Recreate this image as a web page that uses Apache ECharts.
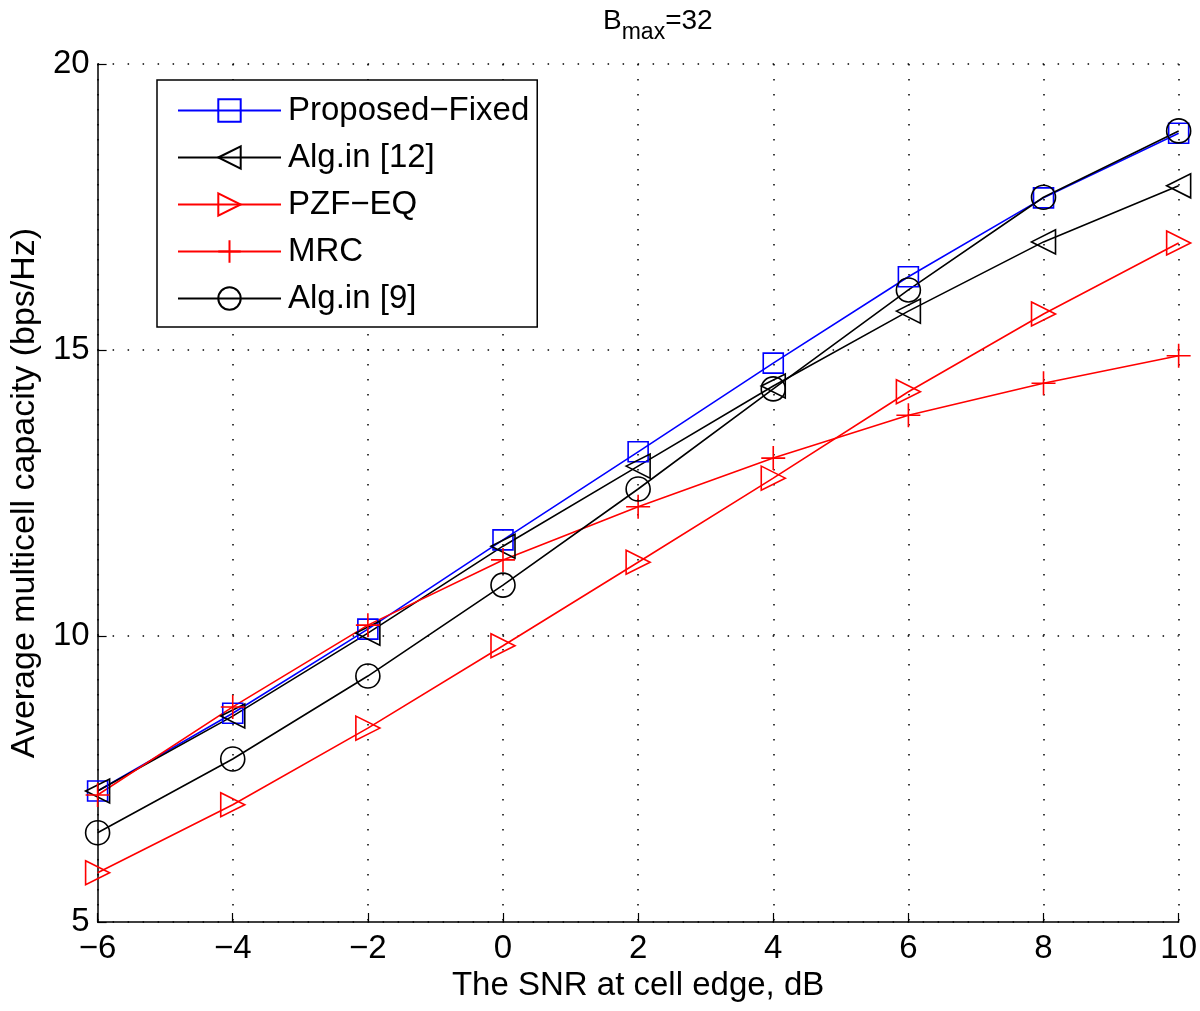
<!DOCTYPE html>
<html>
<head>
<meta charset="utf-8">
<script src="https://cdn.jsdelivr.net/npm/echarts@6/dist/echarts.min.js"></script>
<style>
html,body{margin:0;padding:0;background:#fff;}
#c{width:1200px;height:1011px;}
</style>
</head>
<body>
<div id="c"></div>
<script>
const snr = [-6, -4, -2, 0, 2, 4, 6, 8, 10];
const proposedFixed = [7.29, 8.65, 10.12, 11.68, 13.22, 14.77, 16.28, 17.66, 18.79];
const algIn12 = [7.29, 8.60, 10.05, 11.57, 12.97, 14.37, 15.68, 16.89, 17.87];
const pzfEq = [5.86, 7.05, 8.39, 9.83, 11.29, 12.76, 14.27, 15.63, 16.87];
const mrc = [7.22, 8.76, 10.19, 11.33, 12.26, 13.11, 13.86, 14.42, 14.90];
const algIn9 = [6.56, 7.85, 9.30, 10.89, 12.57, 14.32, 16.05, 17.67, 18.83];
const seriesNames = ['Proposed\u2212Fixed', 'Alg.in [12]', 'PZF\u2212EQ', 'MRC', 'Alg.in [9]'];

const FONT = 'Liberation Sans, Arial, sans-serif';
const pairs = arr => snr.map((x, i) => [x, arr[i]]);

const SQ = 'path://M0,0 L10,0 L10,10 L0,10 Z';
const LT = 'path://M0,5 L10,0 L10,10 Z';
const RT = 'path://M0,0 L10,5 L0,10 Z';
const PL = 'path://M5,0 L5,10 M0,5 L10,5';
const CI = 'circle';

function mk(name, data, color, symbol, size) {
  return {
    name: name,
    type: 'line',
    data: pairs(data),
    symbol: symbol,
    symbolSize: size,
    showAllSymbol: true,
    lineStyle: { color: color, width: 1.6 },
    itemStyle: { color: 'rgba(0,0,0,0)', borderColor: color, borderWidth: 1.6 },
    emphasis: { disabled: true },
    animation: false,
    z: 3
  };
}

const chart = echarts.init(document.getElementById('c'), null, { renderer: 'canvas' });
chart.setOption({
  backgroundColor: '#fff',
  animation: false,
  title: {
    text: '{b|B}{s|max}{b|=32}',
    left: 598,
    top: 2,
    textStyle: {
      fontWeight: 'normal',
      rich: {
        b: { fontFamily: FONT, fontSize: 28, fontWeight: 'normal', color: '#000', verticalAlign: 'top', lineHeight: 30 },
        s: { fontFamily: FONT, fontSize: 23, fontWeight: 'normal', color: '#000', verticalAlign: 'top', lineHeight: 30, padding: [14, 0, 0, 0] }
      }
    }
  },
  grid: { left: 95, right: 16, top: 64, bottom: 89, containLabel: false },
  legend: {
    orient: 'vertical',
    left: 157,
    top: 80,
    padding: [14, 8, 12, 20],
    itemWidth: 103,
    itemHeight: 28,
    itemGap: 14,
    backgroundColor: '#fff',
    borderColor: '#000',
    borderWidth: 1.5,
    borderRadius: 0,
    data: seriesNames,
    textStyle: { fontFamily: FONT, fontSize: 33, color: '#000', padding: [0, 0, 0, 2] },
    selectedMode: false
  },
  xAxis: {
    type: 'value',
    min: -6, max: 10, interval: 2,
    name: 'The SNR at cell edge, dB',
    nameLocation: 'middle',
    nameGap: 46,
    nameTextStyle: { fontFamily: FONT, fontSize: 33, color: '#000' },
    axisLine: { onZero: false, lineStyle: { color: '#000', width: 1.5 } },
    axisTick: { inside: true, length: 9, lineStyle: { color: '#000', width: 1.2 } },
    axisLabel: { fontFamily: FONT, fontSize: 33, color: '#000', margin: 10,
      formatter: v => (v < 0 ? '\u2212' + Math.abs(v) : String(v)) },
    splitLine: { show: true, lineStyle: { color: '#000', width: 1.5, type: [1.5, 13.5] } }
  },
  yAxis: {
    type: 'value',
    min: 5, max: 20, interval: 5,
    name: 'Average multicell capacity (bps/Hz)',
    nameLocation: 'middle',
    nameGap: 55,
    nameTextStyle: { fontFamily: FONT, fontSize: 34, color: '#000' },
    axisLine: { show: true, onZero: false, lineStyle: { color: '#000', width: 1.5 } },
    axisTick: { show: true, inside: true, length: 9, lineStyle: { color: '#000', width: 1.2 } },
    axisLabel: { fontFamily: FONT, fontSize: 33, color: '#000', margin: 8 },
    splitLine: { show: true, lineStyle: { color: '#000', width: 1.5, type: [1.5, 13.5] } }
  },
  series: [
    mk(seriesNames[0], proposedFixed, '#0000ff', SQ, 20),
    mk(seriesNames[1], algIn12, '#000000', LT, 24),
    mk(seriesNames[2], pzfEq, '#ff0000', RT, 24),
    mk(seriesNames[3], mrc, '#ff0000', PL, 24),
    mk(seriesNames[4], algIn9, '#000000', CI, 24)
  ]
});
</script>
</body>
</html>
